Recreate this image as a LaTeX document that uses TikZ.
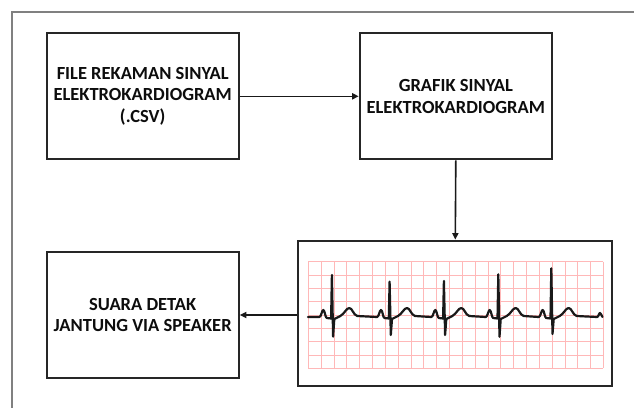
\documentclass[tikz,border=0pt]{standalone}
\usepackage{fontspec}
\setmainfont{Carlito}
\usetikzlibrary{arrows.meta}
\begin{document}
\begin{tikzpicture}[x=1pt,y=-1pt,
  box/.style={draw=black!85,line width=2.2pt,minimum width=192pt,minimum height=126pt,inner sep=0pt,align=center,
    font=\fontsize{18.5}{21.5}\selectfont\bfseries,text=black!95},
  arr/.style={draw=black!90,line width=1.6pt,-{Triangle[length=6.5pt,width=6pt]}},
  gridline/.style={draw=red!28,line width=0.8pt},
  ecgline/.style={draw=black!90,line width=2.2pt,line join=round,line cap=round}]
\useasboundingbox (0,0) rectangle (634,407);
\fill[white] (0,0) rectangle (634,407);
% outer frame
\draw[draw=black!50,line width=2pt] (12.3,420) -- (12.3,11.5) -- (650,11.5);
% boxes
\node[box] (file) at (142.7,96.3) {FILE REKAMAN SINYAL\\ELEKTROKARDIOGRAM\\(.CSV)};
\node[box] (grafik) at (455.8,96.3) {GRAFIK SINYAL\\ELEKTROKARDIOGRAM};
\node[box] (suara) at (142.7,315) {SUARA DETAK\\JANTUNG VIA SPEAKER};
\node[box,minimum width=314pt,minimum height=145.5pt] (ecg) at (455.3,313.5) {};
% grid
\foreach \i in {0,...,23} \draw[gridline] (308.3+\i*12.83,261.7) -- (308.3+\i*12.83,368.3);
\foreach \j in {0,...,8} \draw[gridline] (308.3,261.7+\j*13.33) -- (603.4,261.7+\j*13.33);
% trace
\draw[ecgline] (308,317)
  foreach \r/\t/\s in {332.3/275/336.7, 390/281.7/335, 444.3/281/335, 498.7/274.3/336.7, 551.7/268.3/334}
  { -- (\r-13,317) .. controls (\r-11,317) and (\r-10.5,310) .. (\r-9,310)
    .. controls (\r-7.5,310) and (\r-7,318) .. (\r-5.5,318) -- (\r-1.2,318.5)
    -- (\r-0.4,\t) -- (\r+0.8,\s) -- (\r+2,319) -- (\r+8,316)
    .. controls (\r+12,314) and (\r+14,308) .. (\r+17,308)
    .. controls (\r+20,308) and (\r+21,315) .. (\r+25,316) }
  -- (597,317) .. controls (598.5,317) and (599,313) .. (600,313)
  .. controls (601,313) and (601.5,316) .. (602.5,317);
% connectors
\draw[arr] (file.east) -- (grafik.west);
\draw[arr] (grafik.south) -- (ecg.north);
\draw[arr] (ecg.west |- suara.east) -- (suara.east);
\end{tikzpicture}
\end{document}
